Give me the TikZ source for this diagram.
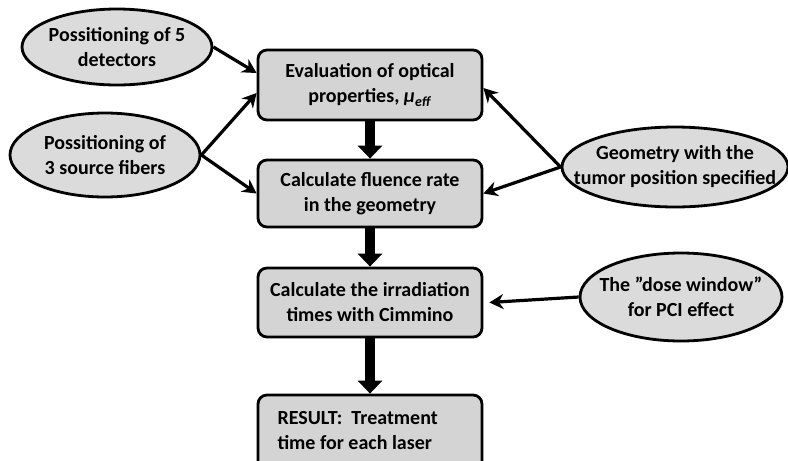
\documentclass[tikz,border=0pt]{standalone}
\usepackage{fontspec}
\setmainfont{Carlito}
\usetikzlibrary{arrows.meta,shapes.geometric,calc}
\begin{document}
\begin{tikzpicture}[x=1pt,y=-1pt,
  box/.style={draw=black, line width=2.8pt, rounded corners=9pt, fill=black!17, minimum width=224pt, inner sep=0pt},
  ell/.style={draw=black, line width=2.8pt, ellipse, fill=black!14, inner sep=0pt},
  lbl/.style={font=\fontsize{20}{25}\selectfont\bfseries, align=center},
  thinarrow/.style={line width=3.2pt, -{Stealth[length=14pt,width=15pt]}},
  thickarrow/.style={line width=9.5pt, -{Triangle[length=13pt,width=24pt]}}]
\useasboundingbox (0,0) rectangle (788,461);
% boxes
\node[box, minimum height=70pt] (b1) at (370,85) {};
\node[lbl] at (b1) {Evaluation of optical\\properties, \textit{μ}\textsubscript{\textit{eff}}};
\node[box, minimum height=67pt] (b2) at (370,193.5) {};
\node[lbl] at (b2) {Calculate fluence rate\\in the geometry};
\node[box, minimum height=69pt] (b3) at (370,302.5) {};
\node[lbl] at (b3) {Calculate the irradiation\\times with Cimmino};
\node[box, minimum height=75pt] (b4) at (370,432.5) {};
\node[lbl, align=left, anchor=west] at (274,431) {RESULT:~~Treatment\\time for each laser};
% ellipses
\node[ell, minimum width=190pt, minimum height=76pt] (e1) at (117,47) {};
\node[lbl] at (e1) {Possitioning of 5\\detectors};
\node[ell, minimum width=190pt, minimum height=84pt] (e2) at (105,155) {};
\node[lbl] at (e2) {Possitioning of\\3 source fibers};
\node[ell, minimum width=226pt, minimum height=80pt] (e3) at (675,167) {};
\node[lbl] at (e3) {Geometry with the\\tumor position specified};
\node[ell, minimum width=202pt, minimum height=88pt] (e4) at (681,297) {};
\node[lbl] at (e4) {The ”dose window”\\for PCI effect};
% vertical arrows
\draw[thickarrow] (b1.south) -- (b2.north);
\draw[thickarrow] (b2.south) -- (b3.north);
\draw[thickarrow] (b3.south) -- (b4.north);
% side arrows
\draw[thinarrow] (e1.east) -- ($(b1.west)+(0,-12)$);
\draw[thinarrow] (e2.east) -- ($(b1.west)+(0,8)$);
\draw[thinarrow] (e2.east) -- (b2.west);
\draw[thinarrow] (e3.west) -- ($(b1.east)+(0,3)$);
\draw[thinarrow] (e3.west) -- (b2.east);
\draw[thinarrow] (e4.west) -- ($(b3.east)+(6,0)$);
\end{tikzpicture}
\end{document}
